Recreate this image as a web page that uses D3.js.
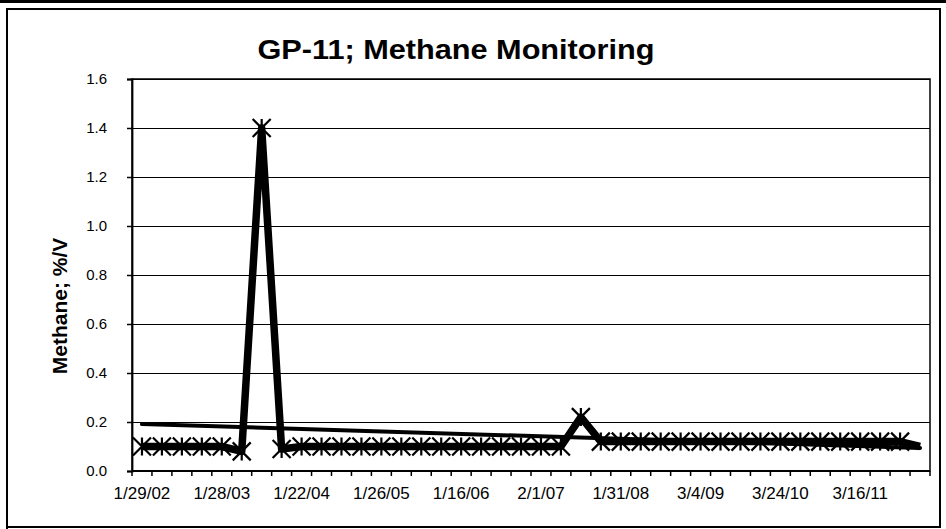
<!DOCTYPE html>
<html>
<head>
<meta charset="utf-8">
<script src="https://cdn.jsdelivr.net/npm/d3@7"></script>
<style>
  html, body { margin: 0; padding: 0; background: #fff; }
  svg { display: block; font-family: "Liberation Sans", Arial, sans-serif; }
</style>
</head>
<body>
<svg id="chart" width="946" height="529"></svg>
<script>
// GP-11 methane readings, one per monitoring event (category axis)
const methane = [
  0.1, 0.1, 0.1, 0.1, 0.1, 0.08, 1.4, 0.09, 0.1, 0.1,
  0.1, 0.1, 0.1, 0.1, 0.1, 0.1, 0.1, 0.1, 0.1, 0.1,
  0.1, 0.1, 0.22, 0.12, 0.12, 0.12, 0.12, 0.12, 0.12, 0.12,
  0.12, 0.12, 0.12, 0.12, 0.12, 0.12, 0.12, 0.12, 0.12, 0.1
];
// every 4th event is labelled on the axis
const dateLabels = ["1/29/02", "1/28/03", "1/22/04", "1/26/05", "1/16/06",
                    "2/1/07", "1/31/08", "3/4/09", "3/24/10", "3/16/11"];
const labelEvery = 4;
const yTicks = [0, 0.2, 0.4, 0.6, 0.8, 1.0, 1.2, 1.4, 1.6];

const drawChart = () => {
  const svg = d3.select("#chart");
  svg.selectAll("*").remove();

  const left = 132, right = 930, top = 79, bottom = 471;

  // outer frame of the scanned page
  svg.append("rect").attr("x", 0).attr("y", 0).attr("width", 946).attr("height", 3).attr("fill", "#000");
  svg.append("path")
    .attr("d", "M7,529 V9 H940 V527 H7")
    .attr("fill", "none").attr("stroke", "#000").attr("stroke-width", 2);

  const idx = d3.range(methane.length);
  const x = d3.scaleBand().domain(idx).range([left, right]);
  const cx = i => x(i) + x.bandwidth() / 2;
  const y = d3.scaleLinear().domain([0, 1.6]).range([bottom, top]);

  // gridlines
  svg.append("g").selectAll("line")
    .data(yTicks.filter(d => d > 0))
    .enter().append("line")
    .attr("x1", left).attr("x2", right)
    .attr("y1", d => Math.round(y(d)) + 0.5).attr("y2", d => Math.round(y(d)) + 0.5)
    .attr("stroke", "#000").attr("stroke-width", 1);

  // plot border
  svg.append("rect")
    .attr("x", left).attr("y", top)
    .attr("width", right - left).attr("height", bottom - top)
    .attr("fill", "none").attr("stroke", "#000").attr("stroke-width", 1.5);

  // y axis
  const yAxis = svg.append("g")
    .attr("transform", `translate(${left},0)`)
    .call(d3.axisLeft(y).tickValues(yTicks).tickFormat(d3.format(".1f")).tickSize(5).tickPadding(20));
  yAxis.select(".domain").attr("stroke", "#000").attr("stroke-width", 1.8);
  yAxis.selectAll(".tick line").attr("stroke", "#000").attr("stroke-width", 1.5);
  yAxis.selectAll("text").attr("font-size", 15).attr("fill", "#000")
    .attr("font-family", "Liberation Sans, Arial, sans-serif");

  // x axis: ticks between every category, labels every 4th
  const xAxis = svg.append("g")
    .attr("transform", `translate(0,${bottom})`);
  xAxis.append("line").attr("x1", left).attr("x2", right).attr("stroke", "#000").attr("stroke-width", 1.8);
  xAxis.selectAll("line.tk")
    .data(d3.range(methane.length + 1))
    .enter().append("line").attr("class", "tk")
    .attr("x1", i => left + i * x.step()).attr("x2", i => left + i * x.step())
    .attr("y1", 0).attr("y2", 5)
    .attr("stroke", "#000").attr("stroke-width", 1.5);
  xAxis.selectAll("text")
    .data(dateLabels)
    .enter().append("text")
    .attr("x", (d, k) => cx(k * labelEvery))
    .attr("y", 28)
    .attr("text-anchor", "middle")
    .attr("font-size", 17)
    .attr("fill", "#000")
    .text(d => d);

  // linear trendline fitted to the series
  const n = methane.length;
  const mx = d3.mean(idx), my = d3.mean(methane);
  const slope = d3.sum(idx, i => (i - mx) * (methane[i] - my)) / d3.sum(idx, i => (i - mx) ** 2);
  const icept = my - slope * mx;
  svg.append("line")
    .attr("x1", cx(0)).attr("y1", y(icept))
    .attr("x2", cx(n - 1)).attr("y2", y(icept + slope * (n - 1)))
    .attr("stroke", "#000").attr("stroke-width", 4).attr("stroke-linecap", "round");

  // data line
  const line = d3.line().x((d, i) => cx(i)).y(d => y(d));
  svg.append("path")
    .datum(methane)
    .attr("d", line)
    .attr("fill", "none").attr("stroke", "#000")
    .attr("stroke-width", 7.5).attr("stroke-linejoin", "round");

  // star markers (last event drawn without one)
  const s = 9;
  svg.append("g").selectAll("path")
    .data(methane.slice(0, n - 1))
    .enter().append("path")
    .attr("transform", (d, i) => `translate(${cx(i)},${y(d)})`)
    .attr("d", `M${-s},${-s}L${s},${s}M${-s},${s}L${s},${-s}M0,${-s}L0,${s}`)
    .attr("stroke", "#000").attr("stroke-width", 2.2).attr("fill", "none");

  // titles
  svg.append("text")
    .attr("x", 456).attr("y", 59)
    .attr("text-anchor", "middle")
    .attr("font-size", 28).attr("font-weight", "bold")
    .attr("textLength", 397).attr("lengthAdjust", "spacingAndGlyphs")
    .text("GP-11; Methane Monitoring");

  svg.append("text")
    .attr("transform", "translate(67,306) rotate(-90)")
    .attr("text-anchor", "middle")
    .attr("font-size", 21).attr("font-weight", "bold")
    .text("Methane; %/V");
};

drawChart();
</script>
</body>
</html>
